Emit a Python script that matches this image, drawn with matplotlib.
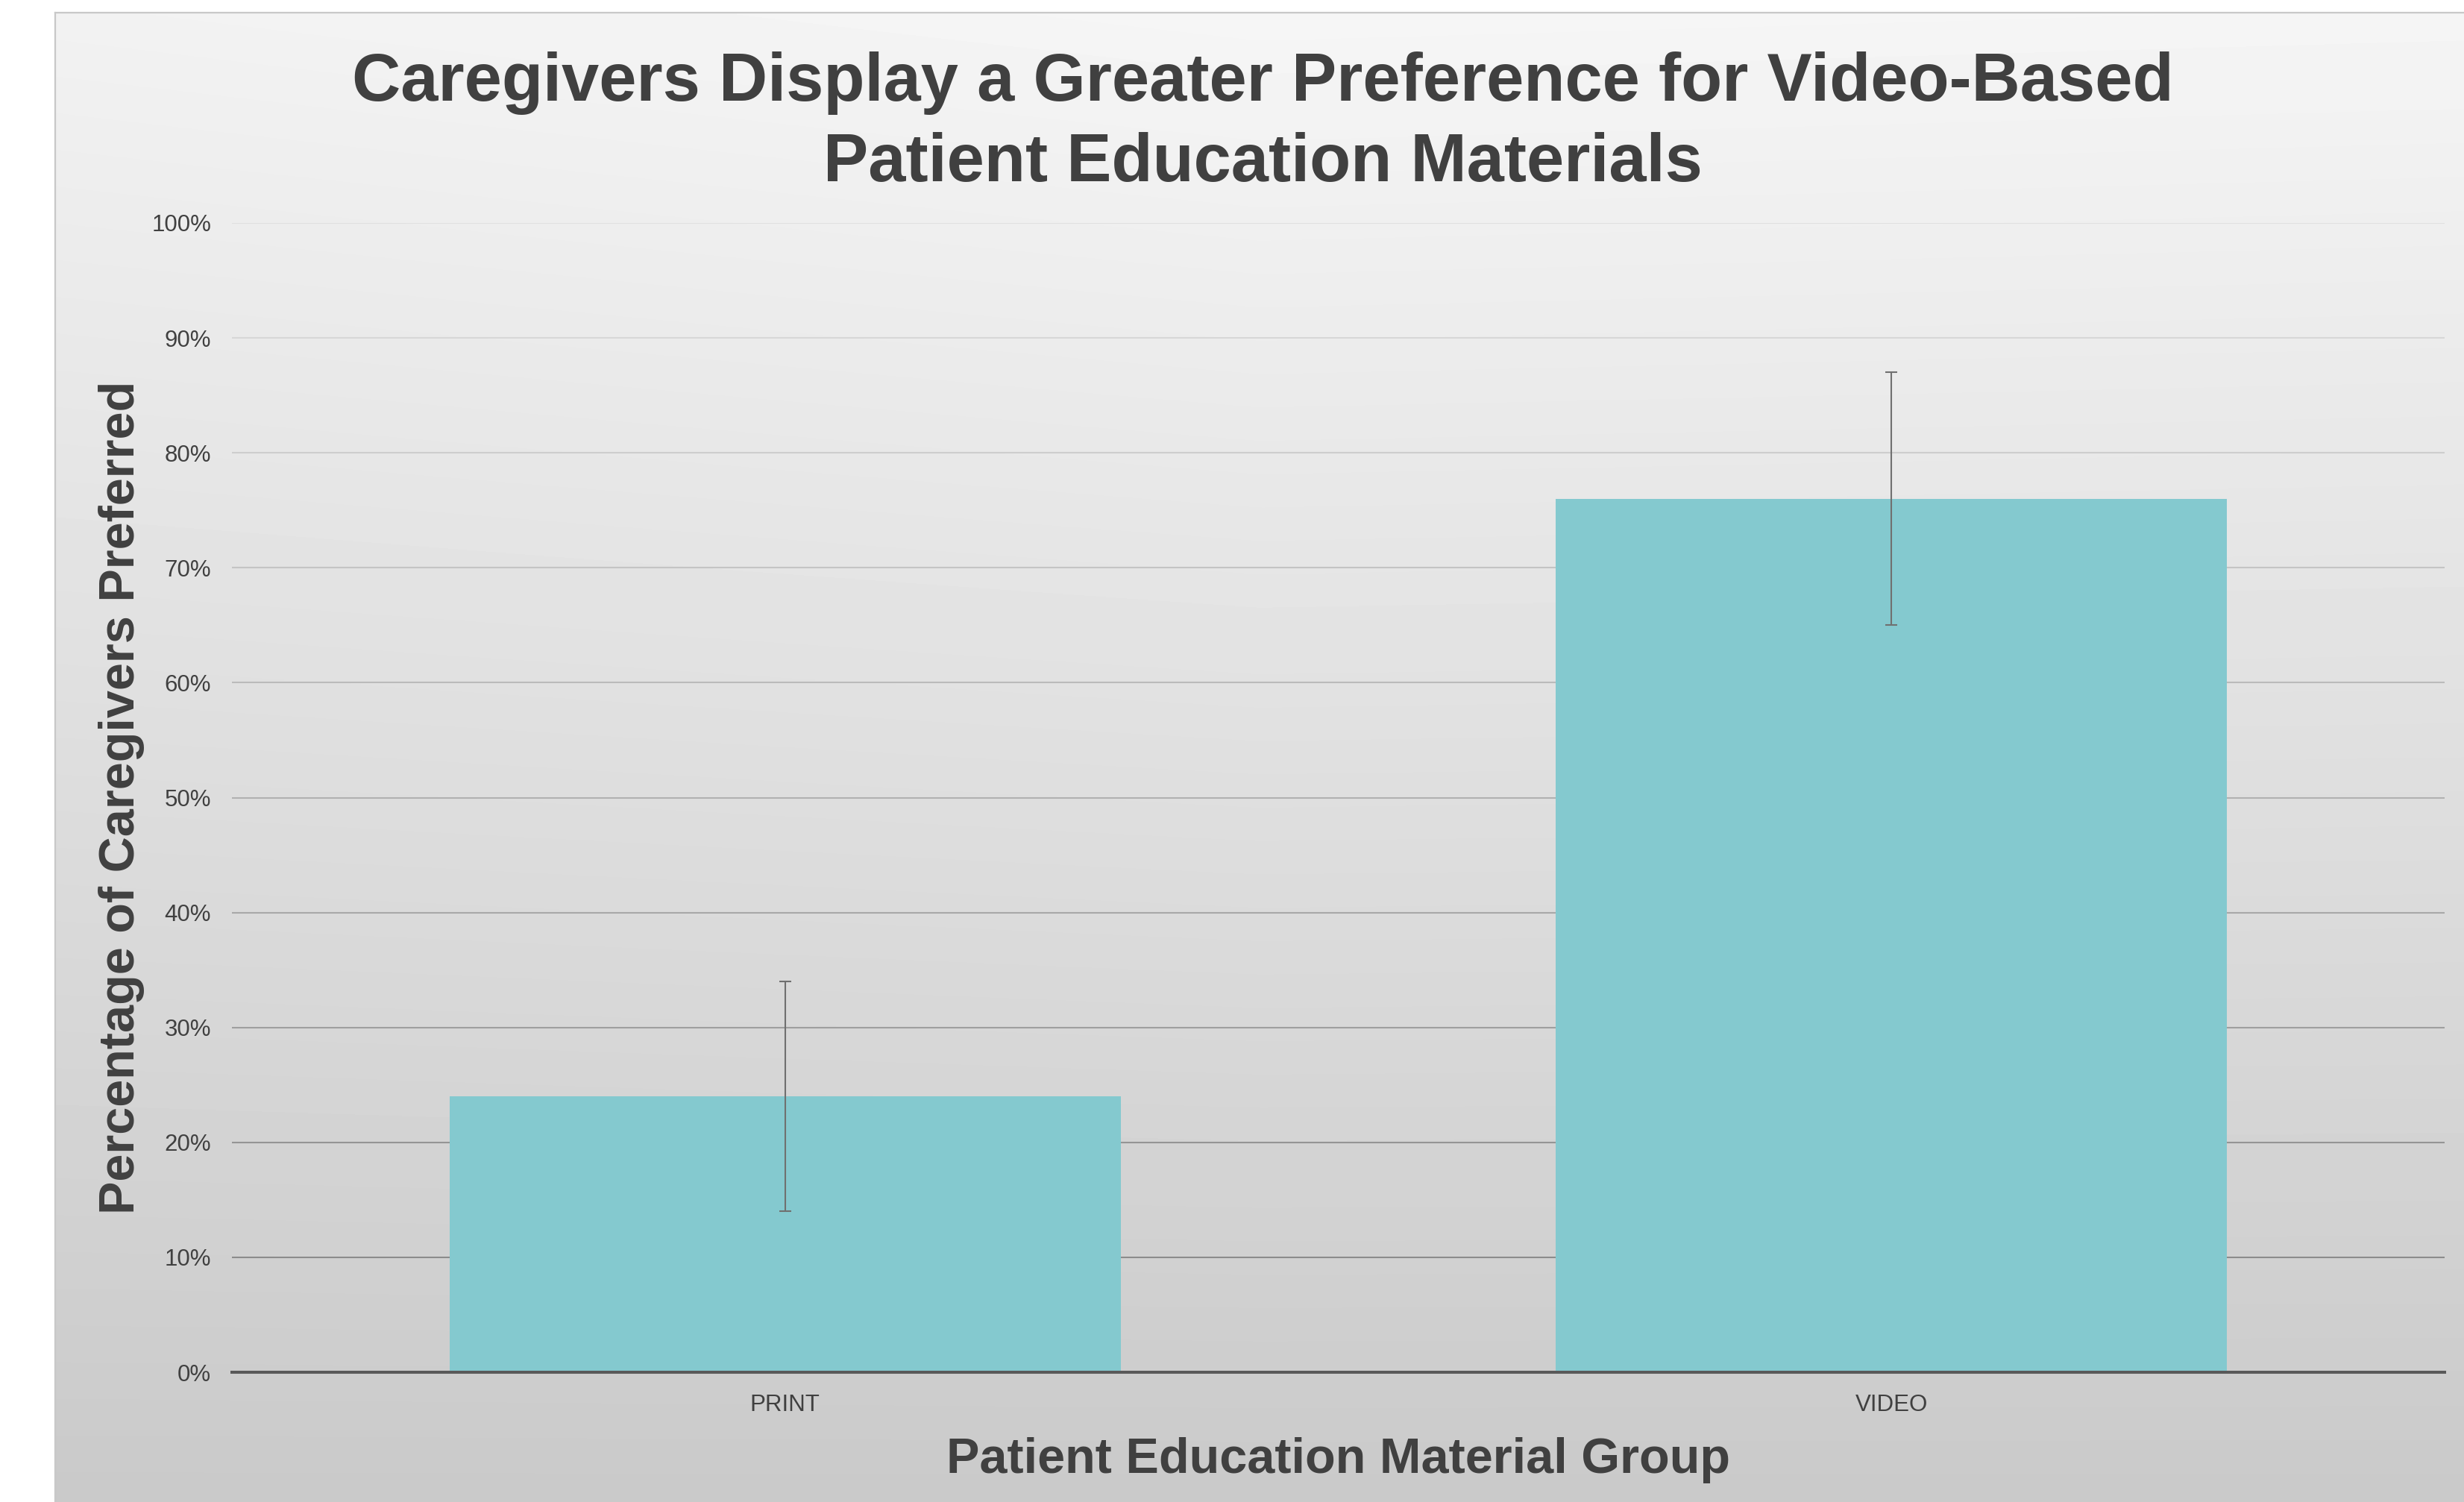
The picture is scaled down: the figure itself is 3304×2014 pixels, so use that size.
import matplotlib
matplotlib.use("Agg")
import matplotlib.pyplot as plt
import numpy as np
from matplotlib.ticker import PercentFormatter

# data
groups = ["PRINT", "VIDEO"]
preferred = [0.24, 0.76]
errors = [0.10, 0.11]
y_ticks = [0.0, 0.1, 0.2, 0.3, 0.4, 0.5, 0.6, 0.7, 0.8, 0.9, 1.0]

title_lines = ["Caregivers Display a Greater Preference for Video-Based",
               "Patient Education Materials"]
x_title = "Patient Education Material Group"
y_title = "Percentage of Caregivers Preferred"

W, H = 3305, 2014
DPI = 100
text_col = "#404040"
bar_col = "#84c9cf"

plt.rcParams['font.family'] = ['Liberation Sans', 'DejaVu Sans']

fig = plt.figure(figsize=(W / DPI, H / DPI), dpi=DPI)
fig.patch.set_facecolor("white")

# panel with a soft gray gradient behind everything
bg = fig.add_axes([74 / W, 0, 1 - 74 / W, (H - 17) / H], zorder=-5)
yy, xx = np.mgrid[0:1:400j, 0:1:400j]
grad = 0.96 - 0.17 * yy - 0.012 * (1 - xx) * (1 - yy) + 0.01 * (1 - np.abs(xx - 0.5) * 2) * (1 - yy)
bg.imshow(grad, cmap="gray", vmin=0, vmax=1, aspect="auto", extent=[0, 1, 0, 1],
          origin="upper", interpolation="bilinear")
bg.set_xticks([])
bg.set_yticks([])
for s in ["right", "bottom"]:
    bg.spines[s].set_visible(False)
for s in ["left", "top"]:
    bg.spines[s].set_color("#c8c8c8")
    bg.spines[s].set_linewidth(1.6)

left, right = 311 / W, 3278 / W
bottom, top = (H - 1840) / H, (H - 299) / H
ax = fig.add_axes([left, bottom, right - left, top - bottom])
ax.set_facecolor("none")

x = np.arange(len(groups))
ax.bar(x, preferred, width=0.607, color=bar_col, zorder=2)
ax.errorbar(x, preferred, yerr=errors, fmt="none", ecolor="#707070",
            elinewidth=1.5, capsize=5.8, capthick=1.5, zorder=3)

ax.set_xlim(-0.5, len(groups) - 0.5)
ax.set_ylim(0, 1.0)
ax.set_yticks(y_ticks)
ax.yaxis.set_major_formatter(PercentFormatter(1.0, decimals=0))
ax.set_xticks(x)
ax.set_xticklabels(groups)
ax.tick_params(axis="both", length=0, labelsize=22.5, labelcolor=text_col)
ax.tick_params(axis="y", pad=20)
ax.tick_params(axis="x", pad=21)

for s in ["left", "right", "top"]:
    ax.spines[s].set_visible(False)
ax.spines["bottom"].set_color("#595959")
ax.spines["bottom"].set_linewidth(2.9)
ax.spines["bottom"].set_zorder(4)

# gridlines get darker toward the bottom
ax.grid(axis="y", linewidth=1.5, zorder=0)
ax.set_axisbelow(True)
for val, gl in zip(y_ticks, ax.yaxis.get_gridlines()):
    g = (140 + (224 - 140) * (val - 0.1) / 0.9) / 255
    g = min(max(g, 0), 1)
    gl.set_color((g, g, g))

# titles
fig.text(1693 / W, (H - 135) / H, title_lines[0], ha="center", va="baseline",
         fontsize=65, fontweight="bold", color=text_col)
fig.text(1693 / W, (H - 243) / H, title_lines[1], ha="center", va="baseline",
         fontsize=65, fontweight="bold", color=text_col)
fig.text(1795 / W, (H - 1975) / H, x_title, ha="center", va="baseline",
         fontsize=48, fontweight="bold", color=text_col)
fig.text(163 / W, (bottom + top) / 2, y_title, ha="center", va="center",
         rotation=90, fontsize=48, fontweight="bold", color=text_col)

fig.savefig("out.png", dpi=DPI)
